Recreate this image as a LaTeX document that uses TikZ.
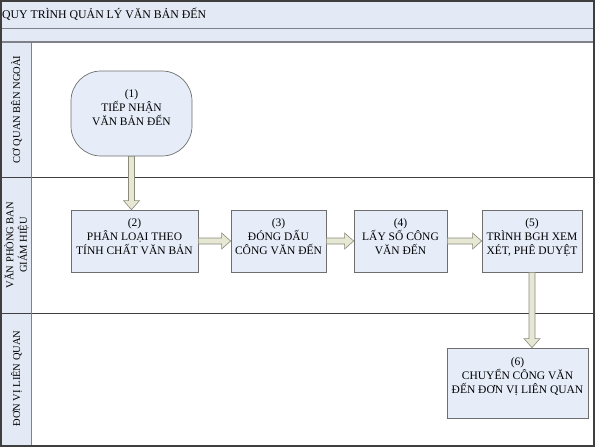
\documentclass[tikz,border=0pt]{standalone}
\usepackage{fontspec}
\setmainfont{Liberation Serif}
\usetikzlibrary{calc}
\definecolor{bandfill}{HTML}{E4EAF5}
\definecolor{boxfill}{HTML}{E6ECF8}
\definecolor{boxline}{HTML}{6E6E6E}
\definecolor{arrowfill}{HTML}{E6E8D4}
\definecolor{arrowline}{HTML}{8A8A7A}
\definecolor{frameline}{HTML}{3F3F3F}
\definecolor{sepline}{HTML}{80808A}
\newcommand{\vblockarrow}[2]{%
  \draw[blockarrow] ($(#1)+(-3,0)$) -- ($(#2)+(-3,-9)$) -- ($(#2)+(-8,-9)$) -- (#2)
    -- ($(#2)+(8,-9)$) -- ($(#2)+(3,-9)$) -- ($(#1)+(3,0)$) -- cycle;}
\newcommand{\hblockarrow}[2]{%
  \draw[blockarrow] ($(#1)+(0,-3)$) -- ($(#2)+(-9,-3)$) -- ($(#2)+(-9,-8)$) -- (#2)
    -- ($(#2)+(-9,8)$) -- ($(#2)+(-9,3)$) -- ($(#1)+(0,3)$) -- cycle;}
\begin{document}
\begin{tikzpicture}[x=1pt,y=-1pt,
  box/.style={draw=boxline, fill=boxfill, line width=0.7pt, inner sep=0pt},
  boxtext/.style={anchor=north, align=center, inner sep=0pt, font=\fontsize{11.5}{14}\selectfont},
  lanetext/.style={rotate=90, align=center, inner sep=0pt, font=\fontsize{10.5}{13.5}\selectfont},
  blockarrow/.style={draw=arrowline, fill=arrowfill, line width=0.6pt, line join=miter},
]
\useasboundingbox (0,0) rectangle (596,447);
% bands and lanes
\fill[bandfill] (0,0) rectangle (594,42);
\fill[bandfill] (0,42) rectangle (31,446);
\draw[sepline, line width=1.5pt] (0,28.5) -- (594,28.5);
\draw[sepline, line width=1.5pt] (0,42) -- (594,42);
\draw[frameline, line width=0.8pt] (0,177) -- (594,177);
\draw[frameline, line width=0.8pt] (0,313) -- (594,313);
\draw[sepline, line width=1pt] (31.5,42) -- (31.5,446);
\draw[frameline, line width=2pt] (1,1) rectangle (594,446);
% title and lane labels
\node[anchor=base west, inner sep=0pt, font=\fontsize{11.8}{14}\selectfont] (title) at (2,18.5) {QUY TRÌNH QUẢN LÝ VĂN BẢN ĐẾN};
\node[lanetext] (l1) at (16.5,109.5) {CƠ QUAN BÊN NGOÀI};
\node[lanetext] (l2) at (16.5,245) {VĂN PHÒNG BAN\\GIÁM HIỆU};
\node[lanetext] (l3) at (16.5,378.5) {ĐƠN VỊ LIÊN QUAN};
% boxes
\node[box, rounded corners=30pt, minimum width=121pt, minimum height=85pt] (n1) at (131.5,113.5) {};
\node[box, minimum width=127pt, minimum height=62pt] (n2) at (134.5,241) {};
\node[box, minimum width=95pt, minimum height=62pt] (n3) at (278.5,241) {};
\node[box, minimum width=93pt, minimum height=62pt] (n4) at (400.5,241) {};
\node[box, minimum width=100pt, minimum height=62pt] (n5) at (532,241) {};
\node[box, minimum width=141pt, minimum height=70pt] (n6) at (517.5,383) {};
% texts
\node[boxtext] (t1) at ($(n1.north)+(0,18.5)$) {(1)\\TIẾP NHẬN\\VĂN BẢN ĐẾN};
\node[boxtext] (t2) at ($(n2.north)+(0,9)$) {(2)\\PHÂN LOẠI THEO\\TÍNH CHẤT VĂN BẢN};
\node[boxtext] (t3) at ($(n3.north)+(0,9)$) {(3)\\ĐÓNG DẤU\\CÔNG VĂN ĐẾN};
\node[boxtext] (t4) at ($(n4.north)+(0,9)$) {(4)\\LẤY SỐ CÔNG\\VĂN ĐẾN};
\node[boxtext] (t5) at ($(n5.north)+(0,9)$) {(5)\\TRÌNH BGH XEM\\XÉT, PHÊ DUYỆT};
\node[boxtext] (t6) at ($(n6.north)+(0,10)$) {(6)\\CHUYỂN CÔNG VĂN\\ĐẾN ĐƠN VỊ LIÊN QUAN};
% arrows
\coordinate (a12) at (n1.south |- n2.north);
\coordinate (a56) at (n5.south |- n6.north);
\vblockarrow{n1.south}{a12}
\hblockarrow{n2.east}{n3.west}
\hblockarrow{n3.east}{n4.west}
\hblockarrow{n4.east}{n5.west}
\vblockarrow{n5.south}{a56}
\end{tikzpicture}
\end{document}
